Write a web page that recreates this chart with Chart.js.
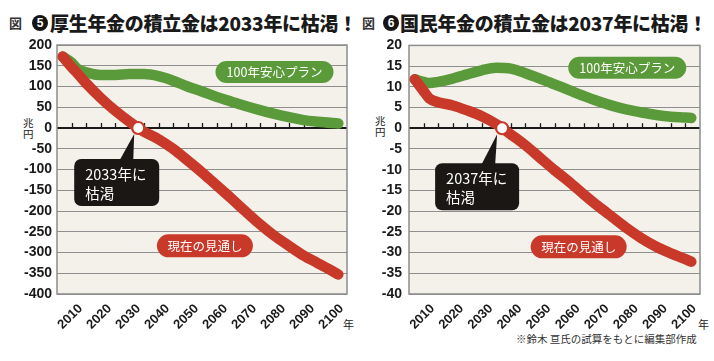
<!DOCTYPE html>
<html><head><meta charset="utf-8">
<script src="https://cdn.jsdelivr.net/npm/chart.js@4.4.1/dist/chart.umd.min.js"></script>
<style>
html,body{margin:0;padding:0;background:#fff;}
body{width:714px;height:361px;position:relative;overflow:hidden;font-family:"Noto Sans CJK JP","Noto Sans",sans-serif;color:#1a1a1a;}
.fig{position:absolute;top:16px;font-size:13px;font-weight:700;color:#333;line-height:14px;}
.num{position:absolute;top:15px;width:16px;height:16px;border-radius:50%;background:#151515;color:#fff;font:700 12px "Liberation Sans",sans-serif;line-height:16px;text-align:center;}
.title{position:absolute;top:11px;font-size:19px;font-weight:900;line-height:24px;white-space:nowrap;letter-spacing:-0.3px;}
.unit{position:absolute;font-size:10.5px;line-height:11px;width:11px;color:#222;}
.nen{position:absolute;top:316px;font-size:11px;color:#222;}
.note{position:absolute;left:516px;top:331px;font-size:10.5px;color:#333;white-space:nowrap;}
canvas{position:absolute;top:30px;}
</style></head>
<body>
<div class="fig" style="left:9px">図</div>
<div class="num" style="left:32px">5</div>
<div class="title" style="left:50px">厚生年金の積立金は2033年に枯渇！</div>
<div class="fig" style="left:362px">図</div>
<div class="num" style="left:383px">6</div>
<div class="title" style="left:400px">国民年金の積立金は2037年に枯渇！</div>
<div class="unit" style="left:23px;top:117px">兆円</div>
<div class="unit" style="left:375px;top:115px">兆円</div>
<div class="nen" style="left:343px">年</div>
<div class="nen" style="left:698px">年</div>
<div class="note">※鈴木 亘氏の試算をもとに編集部作成</div>
<canvas id="c1" width="357" height="331" style="left:0"></canvas>
<canvas id="c2" width="357" height="331" style="left:357px"></canvas>
<script>
// ---- data ----
const xTickYears = [2010,2020,2030,2040,2050,2060,2070,2080,2090,2100];
const zeroTickYears = [2010,2015,2020,2025,2030,2035,2040,2045,2050,2055,2060,2065,2070,2075,2080,2085,2090,2095,2100];
const years = [2007,2010,2012,2015,2020,2025,2030,2035,2040,2045,2050,2055,2060,2065,2070,2075,2080,2085,2090,2095,2100,2102];
// 厚生年金 (兆円)
const kouseiCurrent = [172,147,132,108,73,42,15,-9,-27,-50,-78,-107,-138,-169,-201,-232,-260,-284,-307,-326,-345,-353];
const kouseiPlan    = [172,158,143,134,128,128,130,130,125,114,100,88,75,64,53,43,34,26,19,15,12,11];
// 国民年金 (兆円)
const kokuminCurrent = [11.8,9.0,7.2,6.3,5.5,4.3,2.9,1.0,-1.5,-4.1,-7.1,-10.1,-12.9,-15.9,-18.8,-21.5,-24.2,-26.6,-28.6,-30.2,-31.6,-32.2];
const kokuminPlan    = [11.8,11.2,10.9,11.2,12.0,13.0,14.0,14.6,14.4,13.3,12.0,10.6,9.2,7.8,6.5,5.4,4.5,3.8,3.2,2.8,2.6,2.5];
const kouseiYTicks = [200,150,100,50,0,-50,-100,-150,-200,-250,-300,-350,-400];
const kokuminYTicks = [20,15,10,5,0,-5,-10,-15,-20,-25,-30,-35,-40];
const kouseiDepletion = 2033;
const kokuminDepletion = 2037;
const planLabel = '100年安心プラン';
const currentLabel = '現在の見通し';

const RED = '#c9392a', GREEN = '#5b9a3a';
const CJK = '"Noto Sans CJK JP","Noto Sans",sans-serif';

function roundRect(ctx, x, y, w, h, r){
  ctx.beginPath();
  ctx.moveTo(x+r,y); ctx.lineTo(x+w-r,y); ctx.arcTo(x+w,y,x+w,y+r,r);
  ctx.lineTo(x+w,y+h-r); ctx.arcTo(x+w,y+h,x+w-r,y+h,r);
  ctx.lineTo(x+r,y+h); ctx.arcTo(x,y+h,x,y+h-r,r);
  ctx.lineTo(x,y+r); ctx.arcTo(x,y,x+r,y,r); ctx.closePath();
}

function makeChart(id, cur, plan, yTicks, depYear, opt){
  const deco = {
    id:'deco',
    beforeDraw(chart){
      const {ctx, chartArea:a} = chart;
      ctx.save(); ctx.fillStyle = '#f3f1ea';
      ctx.fillRect(a.left, a.top, a.right-a.left, a.bottom-a.top); ctx.restore();
    },
    beforeDatasetsDraw(chart){
      const {ctx, chartArea:a} = chart;
      const xs = chart.scales.x, ys = chart.scales.y;
      const y0 = ys.getPixelForValue(0);
      ctx.save();
      ctx.strokeStyle = '#1a1a1a'; ctx.lineWidth = 1.3;
      ctx.beginPath();
      for (const t of zeroTickYears){ const px = Math.round(xs.getPixelForValue(t))+0.5; ctx.moveTo(px,y0); ctx.lineTo(px,y0-5); }
      ctx.stroke();
      ctx.strokeStyle = '#8d8d8d'; ctx.lineWidth = 1.5;
      ctx.strokeRect(a.left, a.top, a.right-a.left, a.bottom-a.top);
      ctx.restore();
    },
    afterDatasetsDraw(chart){
      const {ctx} = chart;
      const xs = chart.scales.x, ys = chart.scales.y;
      const cx = xs.getPixelForValue(depYear), cy = ys.getPixelForValue(0);
      ctx.save();
      // callout
      const b = opt.box;
      const bx = cx + b.l, by = cy + b.t, bw = b.r - b.l, bh = b.b - b.t;
      ctx.fillStyle = '#1b1715';
      roundRect(ctx, bx, by, bw, bh, 7); ctx.fill();
      ctx.beginPath();
      ctx.moveTo(cx + b.p0, by+2); ctx.lineTo(cx + b.tip[0], cy + b.tip[1]); ctx.lineTo(cx + b.p1, by+2); ctx.closePath(); ctx.fill();
      ctx.fillStyle = '#fff'; ctx.font = '400 14.5px ' + CJK; ctx.textBaseline = 'middle'; ctx.textAlign = 'left';
      ctx.fillText(depYear + '年に', bx + 11, by + 15);
      ctx.fillText('枯渇', bx + 11, by + 34);
      // marker
      ctx.beginPath(); ctx.arc(cx, cy, 6, 0, Math.PI*2);
      ctx.fillStyle = '#fff'; ctx.fill(); ctx.lineWidth = 2.2; ctx.strokeStyle = RED; ctx.stroke();
      // pills
      for (const p of opt.pills){
        const px = xs.getPixelForValue(p.x), py = ys.getPixelForValue(p.y);
        ctx.fillStyle = p.color;
        roundRect(ctx, px - p.w/2, py - p.h/2, p.w, p.h, p.h/2); ctx.fill();
        ctx.fillStyle = '#fff'; ctx.font = '400 12.5px ' + CJK; ctx.textAlign = 'center'; ctx.textBaseline = 'middle';
        ctx.fillText(p.text, px, py + 0.5);
      }
      ctx.restore();
    }
  };
  return new Chart(document.getElementById(id), {
    type:'line',
    data:{ datasets:[
      { label:currentLabel, data: years.map((y,i)=>({x:y, y:cur[i]})), borderColor:RED, borderWidth:10.5, borderCapStyle:'round', borderJoinStyle:'round', pointRadius:0, cubicInterpolationMode:'monotone', fill:false },
      { label:planLabel, data: years.map((y,i)=>({x:y, y:plan[i]})), borderColor:GREEN, borderWidth:10.5, borderCapStyle:'round', borderJoinStyle:'round', pointRadius:0, cubicInterpolationMode:'monotone', fill:false }
    ]},
    options:{
      responsive:false, animation:false, devicePixelRatio:1,
      layout:{ padding:{ top:15, right:opt.padRight, left:0, bottom:0 } },
      plugins:{ legend:{display:false}, tooltip:{enabled:false}, title:{display:false} },
      scales:{
        x:{ type:'linear', min:2005, max:2105,
            afterBuildTicks(s){ s.ticks = xTickYears.map(v=>({value:v})); },
            afterFit(s){ s.height = 67; },
            grid:{ display:false, drawTicks:false }, border:{display:false},
            ticks:{ autoSkip:false, minRotation:45, maxRotation:45, padding:7, labelOffset:9,
                    color:'#1a1a1a', font:{ family:'"Liberation Sans Narrow","Liberation Sans",sans-serif', weight:'bold', size:13 },
                    callback:v=>String(v) } },
        y:{ type:'linear', min:yTicks[yTicks.length-1], max:yTicks[0],
            afterBuildTicks(s){ s.ticks = yTicks.map(v=>({value:v})); },
            afterFit(s){ s.width = opt.yWidth; },
            grid:{ drawTicks:false, color:c=> c.tick && c.tick.value===0 ? '#1a1a1a' : '#8f8f8f', lineWidth:c=> c.tick && c.tick.value===0 ? 2 : 1 },
            border:{display:false},
            ticks:{ padding:opt.yPad, color:'#1a1a1a', font:{ family:'"Liberation Sans",sans-serif', weight:'bold', size:14 }, callback:v=>String(v) } }
      }
    },
    plugins:[deco]
  });
}

makeChart('c1', kouseiCurrent, kouseiPlan, kouseiYTicks, kouseiDepletion, {
  yWidth:57, yPad:5, padRight:10,
  box:{ l:-64, r:21, t:31, b:78, p0:-19, p1:-5, tip:[-4,6] },
  pills:[ {x:2080, y:135, w:118, h:22, color:GREEN, text:planLabel},
          {x:2056, y:-284, w:96, h:23, color:RED, text:currentLabel} ]
});
makeChart('c2', kokuminCurrent, kokuminPlan, kokuminYTicks, kokuminDepletion, {
  yWidth:52, yPad:7, padRight:14,
  box:{ l:-67, r:17, t:35, b:82, p0:-21, p1:-7, tip:[-5,6] },
  pills:[ {x:2080, y:14.6, w:118, h:22, color:GREEN, text:planLabel},
          {x:2063.3, y:-28.6, w:96, h:23, color:RED, text:currentLabel} ]
});
</script>
</body></html>
